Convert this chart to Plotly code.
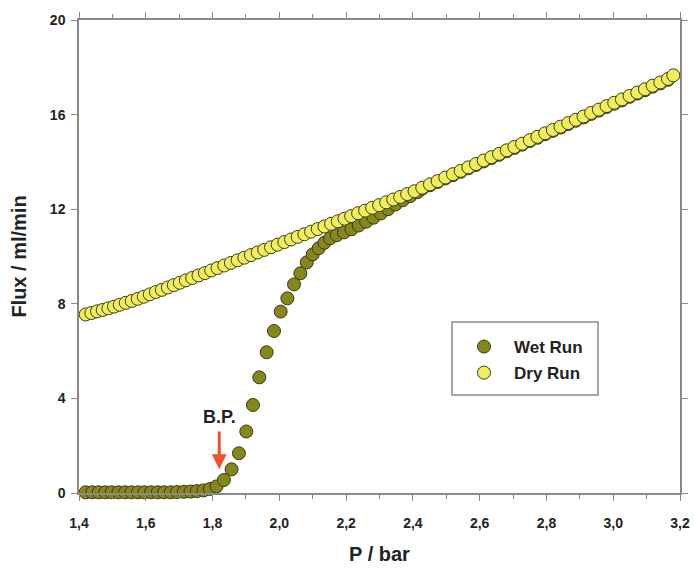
import plotly.graph_objects as go

# ---- data ----
wet_p = [1.420, 1.440, 1.459, 1.479, 1.498, 1.518, 1.538, 1.557, 1.577, 1.596,
         1.616, 1.636, 1.655, 1.675, 1.694, 1.714, 1.734, 1.753, 1.773, 1.792,
         1.812, 1.834, 1.857, 1.879, 1.901, 1.921, 1.940, 1.962, 1.984, 2.004,
         2.024, 2.044, 2.063, 2.082, 2.100, 2.118, 2.135, 2.152, 2.172, 2.194,
         2.216, 2.238, 2.260, 2.282, 2.304, 2.326, 2.348, 2.370, 2.392, 2.414,
         2.428, 2.451, 2.474, 2.497, 2.520, 2.543, 2.566, 2.589, 2.612, 2.635,
         2.658, 2.681, 2.704, 2.727, 2.750, 2.773, 2.796, 2.819, 2.842, 2.865,
         2.888, 2.911, 2.934, 2.957, 2.980, 3.003, 3.026, 3.049, 3.072, 3.095,
         3.118, 3.141, 3.164]
wet_flux = [0.03, 0.03, 0.03, 0.03, 0.03, 0.03, 0.03, 0.03, 0.03, 0.03,
            0.03, 0.03, 0.03, 0.03, 0.04, 0.05, 0.06, 0.08, 0.11, 0.17,
            0.28, 0.55, 1.00, 1.68, 2.60, 3.72, 4.89, 5.95, 6.85, 7.67,
            8.23, 8.82, 9.29, 9.75, 10.09, 10.35, 10.58, 10.77, 10.90, 11.02,
            11.15, 11.31, 11.47, 11.64, 11.82, 12.00, 12.20, 12.38, 12.55, 12.72,
            12.87, 13.01, 13.15, 13.30, 13.44, 13.58, 13.73, 13.87, 14.02, 14.16,
            14.30, 14.45, 14.59, 14.73, 14.88, 15.02, 15.17, 15.31, 15.45, 15.60,
            15.74, 15.88, 16.03, 16.17, 16.32, 16.46, 16.60, 16.75, 16.89, 17.03,
            17.18, 17.32, 17.47]

dry_p = [1.420, 1.437, 1.454, 1.471, 1.488, 1.505, 1.522, 1.540, 1.558, 1.576,
         1.594, 1.612, 1.630, 1.648, 1.666, 1.684, 1.702, 1.720, 1.739, 1.758,
         1.777, 1.796, 1.815, 1.835, 1.855, 1.875, 1.895, 1.915, 1.935, 1.955,
         1.975, 1.995, 2.015, 2.035, 2.055, 2.075, 2.095, 2.115, 2.135, 2.155,
         2.175, 2.195, 2.215, 2.236, 2.257, 2.278, 2.299, 2.320, 2.341, 2.362,
         2.383, 2.405, 2.428, 2.451, 2.474, 2.497, 2.520, 2.543, 2.566, 2.589,
         2.612, 2.635, 2.658, 2.681, 2.704, 2.727, 2.750, 2.773, 2.796, 2.819,
         2.842, 2.865, 2.888, 2.911, 2.934, 2.957, 2.980, 3.003, 3.026, 3.049,
         3.072, 3.095, 3.118, 3.141, 3.164, 3.180]
dry_flux = [7.55, 7.61, 7.68, 7.74, 7.81, 7.88, 7.96, 8.04, 8.12, 8.21,
            8.30, 8.40, 8.50, 8.59, 8.69, 8.79, 8.89, 8.99, 9.09, 9.20,
            9.30, 9.41, 9.51, 9.62, 9.73, 9.84, 9.95, 10.06, 10.17, 10.28,
            10.39, 10.50, 10.61, 10.72, 10.83, 10.94, 11.05, 11.16, 11.27, 11.38,
            11.49, 11.60, 11.71, 11.83, 11.94, 12.06, 12.17, 12.29, 12.41, 12.52,
            12.64, 12.76, 12.91, 13.05, 13.19, 13.34, 13.48, 13.62, 13.77, 13.91,
            14.06, 14.20, 14.34, 14.49, 14.63, 14.77, 14.92, 15.06, 15.21, 15.35,
            15.49, 15.64, 15.78, 15.92, 16.07, 16.21, 16.36, 16.50, 16.64, 16.79,
            16.93, 17.07, 17.22, 17.36, 17.51, 17.66]

x_ticks = [1.4, 1.6, 1.8, 2.0, 2.2, 2.4, 2.6, 2.8, 3.0, 3.2]
x_tick_labels = ["1,4", "1,6", "1,8", "2,0", "2,2", "2,4", "2,6", "2,8", "3,0", "3,2"]
y_ticks = [0, 4, 8, 12, 16, 20]

bp_p = 1.82
bp_label = "B.P."

WET_COLOR = "#86861c"
DRY_COLOR = "#f0ee5c"
EDGE = "#3a3a1c"
AXIS = "#8a8a8a"
FONT = "Liberation Sans"

ML, MT, PW, PH = 79, 20, 601, 473

def px_x(v):
    return (v - ML) / PW

def px_y(v):
    return (MT + PH - v) / PH

fig = go.Figure()
fig.add_trace(go.Scatter(
    x=wet_p, y=wet_flux, mode="markers", name="Wet Run", legendgroup="w",
    cliponaxis=False,
    marker=dict(size=13, color=WET_COLOR, line=dict(color=EDGE, width=1)),
))
fig.add_trace(go.Scatter(
    x=dry_p, y=dry_flux, mode="markers", name="Dry Run", legendgroup="d",
    cliponaxis=False,
    marker=dict(size=13, color=DRY_COLOR, line=dict(color=EDGE, width=1)),
))

# Breakthrough-point arrow and label
fig.add_annotation(x=bp_p, y=1.0, ax=bp_p, ay=2.66, xref="x", yref="y",
                   axref="x", ayref="y", text="", showarrow=True,
                   arrowhead=2, arrowsize=1.0, arrowwidth=3, arrowcolor="#f0502e")
fig.add_annotation(x=bp_p, y=3.23, xref="x", yref="y", text="<b>" + bp_label + "</b>",
                   showarrow=False, font=dict(family=FONT, size=18, color="#222222"))

# legend frame
fig.add_shape(type="rect", xref="paper", yref="paper",
              x0=px_x(452), x1=px_x(598), y0=px_y(395), y1=px_y(322),
              line=dict(color=AXIS, width=1.5), fillcolor="white", layer="below")

fig.update_layout(
    width=694, height=569,
    margin=dict(l=ML, r=694 - ML - PW, t=MT, b=569 - MT - PH),
    paper_bgcolor="white", plot_bgcolor="white",
    font=dict(family=FONT, color="#222222"),
    showlegend=True,
    legend=dict(
        x=px_x(454), y=px_y(329), xanchor="left", yanchor="top",
        bgcolor="rgba(0,0,0,0)", borderwidth=0,
        font=dict(family=FONT, size=17, color="#222222", weight="bold"),
        itemwidth=50, tracegroupgap=1,
    ),
)

fig.update_xaxes(
    range=[1.4, 3.2], tickmode="array", tickvals=x_ticks, ticktext=x_tick_labels,
    showline=True, linecolor=AXIS, linewidth=1.5, mirror="ticks", automargin=False,
    ticks="outside", ticklen=6, tickwidth=1.2, tickcolor=AXIS,
    minor=dict(dtick=0.1, ticks="outside", ticklen=4, tickwidth=1, tickcolor=AXIS),
    showgrid=False, zeroline=False, ticklabelstandoff=10,
    tickfont=dict(family=FONT, size=14, color="#222222", weight="bold"),
    title=dict(text="<b>P / bar</b>", font=dict(family=FONT, size=20, color="#222222"),
               standoff=17),
)
fig.update_yaxes(
    range=[0, 20], tickmode="array", tickvals=y_ticks,
    showline=True, linecolor=AXIS, linewidth=1.5, mirror="ticks", automargin=False,
    ticks="outside", ticklen=6, tickwidth=1.2, tickcolor=AXIS,
    showgrid=False, zeroline=False, ticklabelstandoff=3,
    tickfont=dict(family=FONT, size=14, color="#222222", weight="bold"),
    title=dict(text="<b>Flux / ml/min</b>", font=dict(family=FONT, size=20, color="#222222"),
               standoff=18),
)

fig.write_html("out.html", config={"displayModeBar": False},
               post_script="document.body.style.margin='0';")
